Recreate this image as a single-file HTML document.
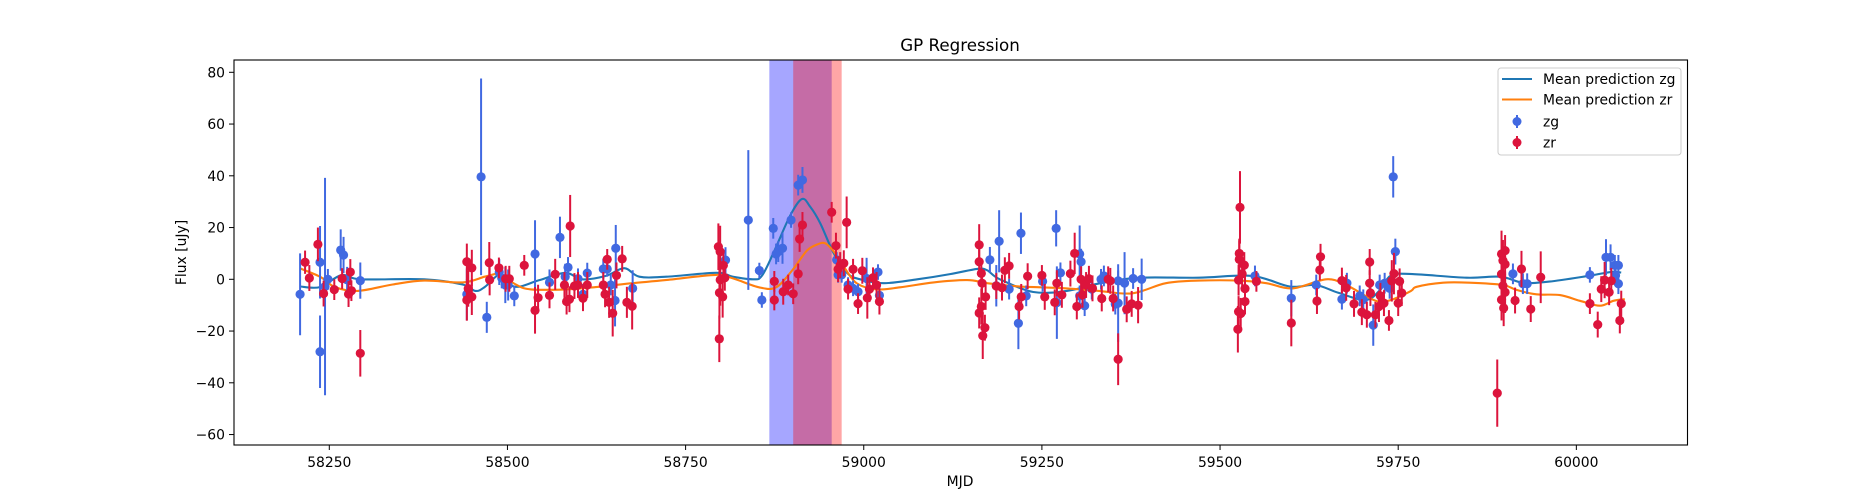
<!DOCTYPE html>
<html><head><meta charset="utf-8"><style>
html,body{margin:0;padding:0;background:#fff;}
svg{display:block;font-family:"DejaVu Sans","Liberation Sans",sans-serif;}
</style></head><body>
<svg id="chart" width="1875" height="500" viewBox="0 0 1875 500" xmlns="http://www.w3.org/2000/svg">
<rect x="0" y="0" width="1875" height="500" fill="#fff"/>
<g id="spans"></g>
<g id="curves"></g>
<g id="points"></g>
<rect x="234" y="60" width="1453.5" height="385" fill="none" stroke="#000" stroke-width="1.1"/>
<g id="xticks"></g>
<g id="yticks"></g>
<text x="960" y="51" text-anchor="middle" font-size="16.7">GP Regression</text>
<text x="960" y="486" text-anchor="middle" font-size="13.9">MJD</text>
<text transform="translate(186,252.5) rotate(-90)" text-anchor="middle" font-size="13.9">Flux [uJy]</text>
<g>
<rect x="1498" y="68" width="183" height="87" rx="3" fill="#fff" fill-opacity="0.8" stroke="#ccc" stroke-width="1"/>
<g><line x1="1502" y1="79" x2="1532" y2="79" stroke="#1f77b4" stroke-width="2.1"/><text x="1543" y="84" font-size="13.9">Mean prediction zg</text></g>
<g><line x1="1502" y1="99.5" x2="1532" y2="99.5" stroke="#ff7f0e" stroke-width="2.1"/><text x="1543" y="104.5" font-size="13.9">Mean prediction zr</text></g>
<g><line x1="1517" y1="115" x2="1517" y2="128" stroke="royalblue" stroke-width="2"/><circle cx="1517" cy="121.5" r="4.5" fill="royalblue"/><text x="1543" y="126.5" font-size="13.9">zg</text></g>
<g><line x1="1517" y1="136" x2="1517" y2="149" stroke="crimson" stroke-width="2"/><circle cx="1517" cy="142.5" r="4.5" fill="crimson"/><text x="1543" y="147.5" font-size="13.9">zr</text></g>
</g>
</svg>
<script>
// ---- data ----
const xTicks = [58250, 58500, 58750, 59000, 59250, 59500, 59750, 60000];
const yTicks = [-60, -40, -20, 0, 20, 40, 60, 80];
const spanBlue = [58867.5, 58955];
const spanRed = [58901, 58969];

const gMjd = [58209,58237,58237,58244,58248,58266,58270,58275,58293.5,58443,58463,58471,58488.5,58492,58497,58509.6,58501,58538.7,58559,58573.7,58581,58585,58599,58606,58612,58634.5,58640,58645,58651,58652,58675.7,58806,58838,58853.5,58857,58873,58877,58880,58886,58898,58908,58914,58962,58964,58969,58978,58985,58992,59004,59020,59022,59177,59190,59186,59204,59217,59220.6,59228,59251,59270,59271,59276,59303,59305,59303,59310,59320,59333,59337,59353,59357,59357,59366,59378,59390,59549,59600,59635,59671,59678,59696,59701,59715,59724,59731,59738,59743,59746,59911,59925,59931,60019,60041.6,60048,60054,60059,60055,60059];
const gFlux = [-5.8,6.6,-28,-2.8,0,11.3,9.4,-0.2,-0.5,-5.8,39.6,-14.7,2.8,0.5,-2.2,-6.4,-2.2,9.8,-1.2,16.2,1,4.6,0.2,-5.8,2.4,4,4,-2.2,-8.2,12,-3.5,7.4,22.9,3.4,-8,19.7,9.8,10.7,12,22.9,36.4,38.4,7.5,1.7,1.7,-2.2,-3.5,-4.8,0.3,2.8,-6.2,7.5,14.7,-2.5,-3.8,-17,17.8,-6.4,-0.8,19.7,-9,2.5,9.8,6.8,-6.4,-10.2,-3.8,0,1.3,-9.6,-0.6,-9.2,-1.5,0.3,0,1.3,-7.3,-2.2,-7.7,-1.5,-6.4,-7.9,-17.7,-2.2,-1.5,-3.5,39.6,10.7,2.1,-1.7,-1.7,1.7,8.5,8.5,5.4,5.4,1.5,-1.7];
const gErr = [15.8,14,14,42,4,8,7,5,7,10,38,6,5,4,7,4,6,13,5,8,5,4,4,4,4,4,3,4,10,9,7,5,27,3,3,4,4,4,6,3,4,5,3,3,3,3,3,3,8,3,3,5,12,8,4,10,8,4,4,7,14,4,11,5,4,4,4,4,4,4,4,15,12,4,8,4,7,4,4,4,4,4,8,4,4,4,8,5,4,4,4,3,7,5,4,4,4,4];

const rMjd = [58216,58222,58234,58242,58257,58268,58279.5,58277,58281,58293.5,58443,58443,58445,58450,58450,58474.5,58475,58488,58497.5,58502.6,58523.6,58538.7,58543,58559,58567,58580,58583,58587,58588,58594,58599,58606,58612,58634.5,58637,58640,58642.7,58647.7,58653,58661,58667.6,58675,58796,58798.5,58797.5,58798.6,58802,58797.3,58803,58805,58874.5,58874.5,58887,58894,58901,58908,58910,58914,58955,58961,58976,58967,58972,58964,58978,58985,58992,58998,59005,59008,59013,59018,59022,59162,59162,59165,59166,59165,59167,59171,59170,59162,59186,59194,59198,59204,59218,59221,59230,59250,59254,59268,59271,59278,59290,59296,59299,59305,59307,59312,59316,59321,59334,59343,59346,59350,59357,59369,59376,59385,59528,59527,59527,59526,59526,59525,59529,59531,59534,59535,59535,59551,59600,59641,59640,59636,59671,59677,59688,59699,59706,59710,59710,59711,59718,59723,59725,59730,59737,59741,59744,59750,59752,59755,59889,59895,59900,59897,59895,59897,59900,59895,59900,59898,59914,59923,59936,59950,60019,60030,60035,60039.7,60049,60046,60063,60061];
const rFlux = [6.6,0.5,13.5,-5.5,-4,0.3,2.8,-5.7,-4.4,-28.6,6.8,-8,-3.6,4.4,-6.8,6.4,-0.2,4.4,0.2,0.2,5.4,-12,-7.1,-6.2,1.9,-2.2,-8.6,-7.7,20.6,-2.6,-2.2,-7.3,-2.2,-2.2,-5.8,7.7,-8.9,-13.1,1.5,7.9,-8.9,-10.4,12.6,10.7,-5.2,-0.2,-6.8,-23,5.4,0.6,-0.8,-8,-4.8,-2.2,-5.6,2.1,15.6,21,25.9,13,22,5.5,6.2,3.9,-3.8,3.9,-9.4,3.3,-7.2,-3.8,0.6,-2.2,-8.6,13.3,6.8,2.3,-1.5,-10.5,-21.8,-6.8,-18.7,-13,-2.6,-3.2,3.5,5.2,-10.5,-6.8,1.2,1.5,-6.8,-8.9,-1.5,-6,2.2,10,-10.5,0,-6,-2.2,0.2,-3.5,-7.4,0,-0.6,-7.4,-30.9,-11.6,-9.5,-10,27.8,10,7.7,-0.3,-12.5,-19.3,-13.2,2.1,5.5,-3.6,-8.6,-0.8,-16.9,8.7,3.6,-8.4,-0.5,-3.3,-9.5,-12.7,-13.7,6.7,-1.5,-5.3,-13.7,-10.5,-6.4,-9.2,-15.9,-0.6,2.2,-9.2,-0.8,-5.3,-44,9.8,11.1,7.2,2,-2.5,5.8,-7.9,-5,-11.1,-8.2,4,-11.5,0.8,-9.4,-17.5,-3.8,-0.3,-0.6,-5,-9.4,-15.9];
const rErr = [4.5,5,6.5,5,4,4,5,5,4,9,7,8,7,7,7,8,6,4,5,5,4,9,5,5,6,5,5,5,12,5,5,5,5,5,5,4,6,9,5,5,6,9,9,10,10,10,8,9,5,5,4,4,5,4,4,4,5,5,4,5,10,5,5,5,4,4,4,5,8,5,4,5,5,8,5,5,5,7,9,5,5,6,5,5,5,5,5,5,5,4,5,5,5,5,5,8,5,5,5,5,5,5,5,5,5,5,10,5,5,7,14,5,8,6,6,9,6,5,5,5,5,4,9,5,4,5,5,5,5,5,5,5,5,5,5,6,5,5,4,8,8,5,5,5,13,9,6,8,8,8,7,8,8,7,5,7,5,10,4,5,5,7,5,5,5,5];

const gCurveMjd = [58209,58237,58267,58294,58383,58437,58455,58468,58482,58490,58511,58544,58581,58605,58638,58664,58685,58723,58793,58816,58845,58857,58873,58896,58913,58925,58939,58958,58977,58995,59028,59075,59121,59159,59173,59191,59238,59285,59332,59386,59470,59545,59598,59634,59666,59704,59725,59740,59770,59846,59893,59925,59962,60019,60050,60063];
const gCurveFlux = [-2.8,-3,1.6,0,0,-2,-4.5,-3,0.6,1.5,-2.9,-0.4,2.5,0,1.3,4.3,1,1,2.5,1,0,1.3,10,24.2,31,28,21.6,10,2.3,0,-1.5,0,2,4,3.5,0,-4.9,-4.5,-1.5,0.6,0.6,1.3,-2.8,-2.2,-5.2,-8,-4,1.5,2,0.6,1,-1.3,-0.9,1.4,2.9,2.6];
const rCurveMjd = [58209,58237,58258,58290,58339,58383,58437,58468,58487,58492,58513,58533,58581,58628,58675,58722,58792,58816,58853,58877,58900,58920,58935,58946,58958,58972,58990,59018,59051,59098,59145,59173,59215,59248,59285,59330,59377,59424,59471,59527,59565,59602,59649,59677,59706,59724,59743,59768,59776,59813,59850,59897,59916,59944,59977,60005,60033,60052,60068];
const rCurveFlux = [4.2,1,-3,-4.5,-2,-0.5,-1.2,1,2.3,1.7,-2.2,-3.9,-3.9,-2.9,-1.5,-0.3,1.7,0.4,-3.1,-3.1,3.6,11,13.5,13.9,10.7,4.9,-1.5,-3.9,-3.1,-1.2,-0.3,-1.5,-2.7,-3.1,-3.5,-4.5,-5.4,-1.5,-0.5,-0.5,-1.5,-3.5,0,-2.2,-6.7,-8.7,-7.7,-4.5,-2.9,-1.3,-1.3,-2.2,-4.1,-5.8,-6.1,-8.3,-10.2,-8.3,-7.7];

// ---- axes ----
const NS = 'http://www.w3.org/2000/svg';
function xs(m){ return 329.3 + (m - 58250) * 0.7126; }
function ys(v){ return 279.3 - v * 2.5875; }
function mk(tag, attrs, parent){
  const el = document.createElementNS(NS, tag);
  for (const k in attrs) el.setAttribute(k, attrs[k]);
  parent.appendChild(el);
  return el;
}

// spans
const spans = document.getElementById('spans');
const sb = mk('rect', {x: xs(spanBlue[0]), y: 60, width: xs(spanBlue[1]) - xs(spanBlue[0]), height: 385, fill: 'blue', 'fill-opacity': 0.35}, spans);


const sr = mk('rect', {x: xs(spanRed[0]), y: 60, width: xs(spanRed[1]) - xs(spanRed[0]), height: 385, fill: 'red', 'fill-opacity': 0.35}, spans);



// ticks
const xt = document.getElementById('xticks');
xTicks.forEach(t => {
  const x = xs(t);
  const l = mk('line', {x1: x, x2: x, y1: 445, y2: 450, stroke: '#000', 'stroke-width': 1}, xt);
  
  
  const tx = mk('text', {x: x, y: 467, 'text-anchor': 'middle', 'font-size': 13.9}, xt);
  tx.textContent = t;
  
  
});
const yt = document.getElementById('yticks');
yTicks.forEach(t => {
  const y = ys(t);
  const l = mk('line', {x1: 229, x2: 234, y1: y, y2: y, stroke: '#000', 'stroke-width': 1}, yt);
  
  
  const tx = mk('text', {x: 225, y: y + 5, 'text-anchor': 'end', 'font-size': 13.9}, yt);
  tx.textContent = t < 0 ? '\u2212' + Math.abs(t) : t;
  
  
});

// points
const pts = document.getElementById('points');
function drawSeries(mjd, flux, err, color, name){
  for (let i = 0; i < mjd.length; i++){
    const x = xs(mjd[i]);
    const b = mk('line', {x1: x, x2: x, y1: Math.max(60, ys(flux[i] + err[i])), y2: Math.min(445, ys(flux[i] - err[i])), stroke: color, 'stroke-width': 2}, pts);
    
    
    const c = mk('circle', {cx: x, cy: ys(flux[i]), r: 4.6, fill: color}, pts);
    
    
  }
}
drawSeries(gMjd, gFlux, gErr, 'royalblue', 'zg');
drawSeries(rMjd, rFlux, rErr, 'crimson', 'zr');

// curves
const cv = document.getElementById('curves');
function smoothPath(mx, vy){
  const P = mx.map((m, i) => [xs(m), ys(vy[i])]);
  let d = 'M' + P[0][0].toFixed(1) + ',' + P[0][1].toFixed(1);
  for (let i = 0; i < P.length - 1; i++){
    const p0 = P[Math.max(0, i - 1)], p1 = P[i], p2 = P[i + 1], p3 = P[Math.min(P.length - 1, i + 2)];
    const c1 = [p1[0] + (p2[0] - p0[0]) / 6, p1[1] + (p2[1] - p0[1]) / 6];
    const c2 = [p2[0] - (p3[0] - p1[0]) / 6, p2[1] - (p3[1] - p1[1]) / 6];
    d += 'C' + c1[0].toFixed(1) + ',' + c1[1].toFixed(1) + ' ' + c2[0].toFixed(1) + ',' + c2[1].toFixed(1) + ' ' + p2[0].toFixed(1) + ',' + p2[1].toFixed(1);
  }
  return d;
}
const gl = mk('path', {d: smoothPath(gCurveMjd, gCurveFlux), fill: 'none', stroke: '#1f77b4', 'stroke-width': 2.1}, cv);


const rl = mk('path', {d: smoothPath(rCurveMjd, rCurveFlux), fill: 'none', stroke: '#ff7f0e', 'stroke-width': 2.1}, cv);


</script>
</body></html>
